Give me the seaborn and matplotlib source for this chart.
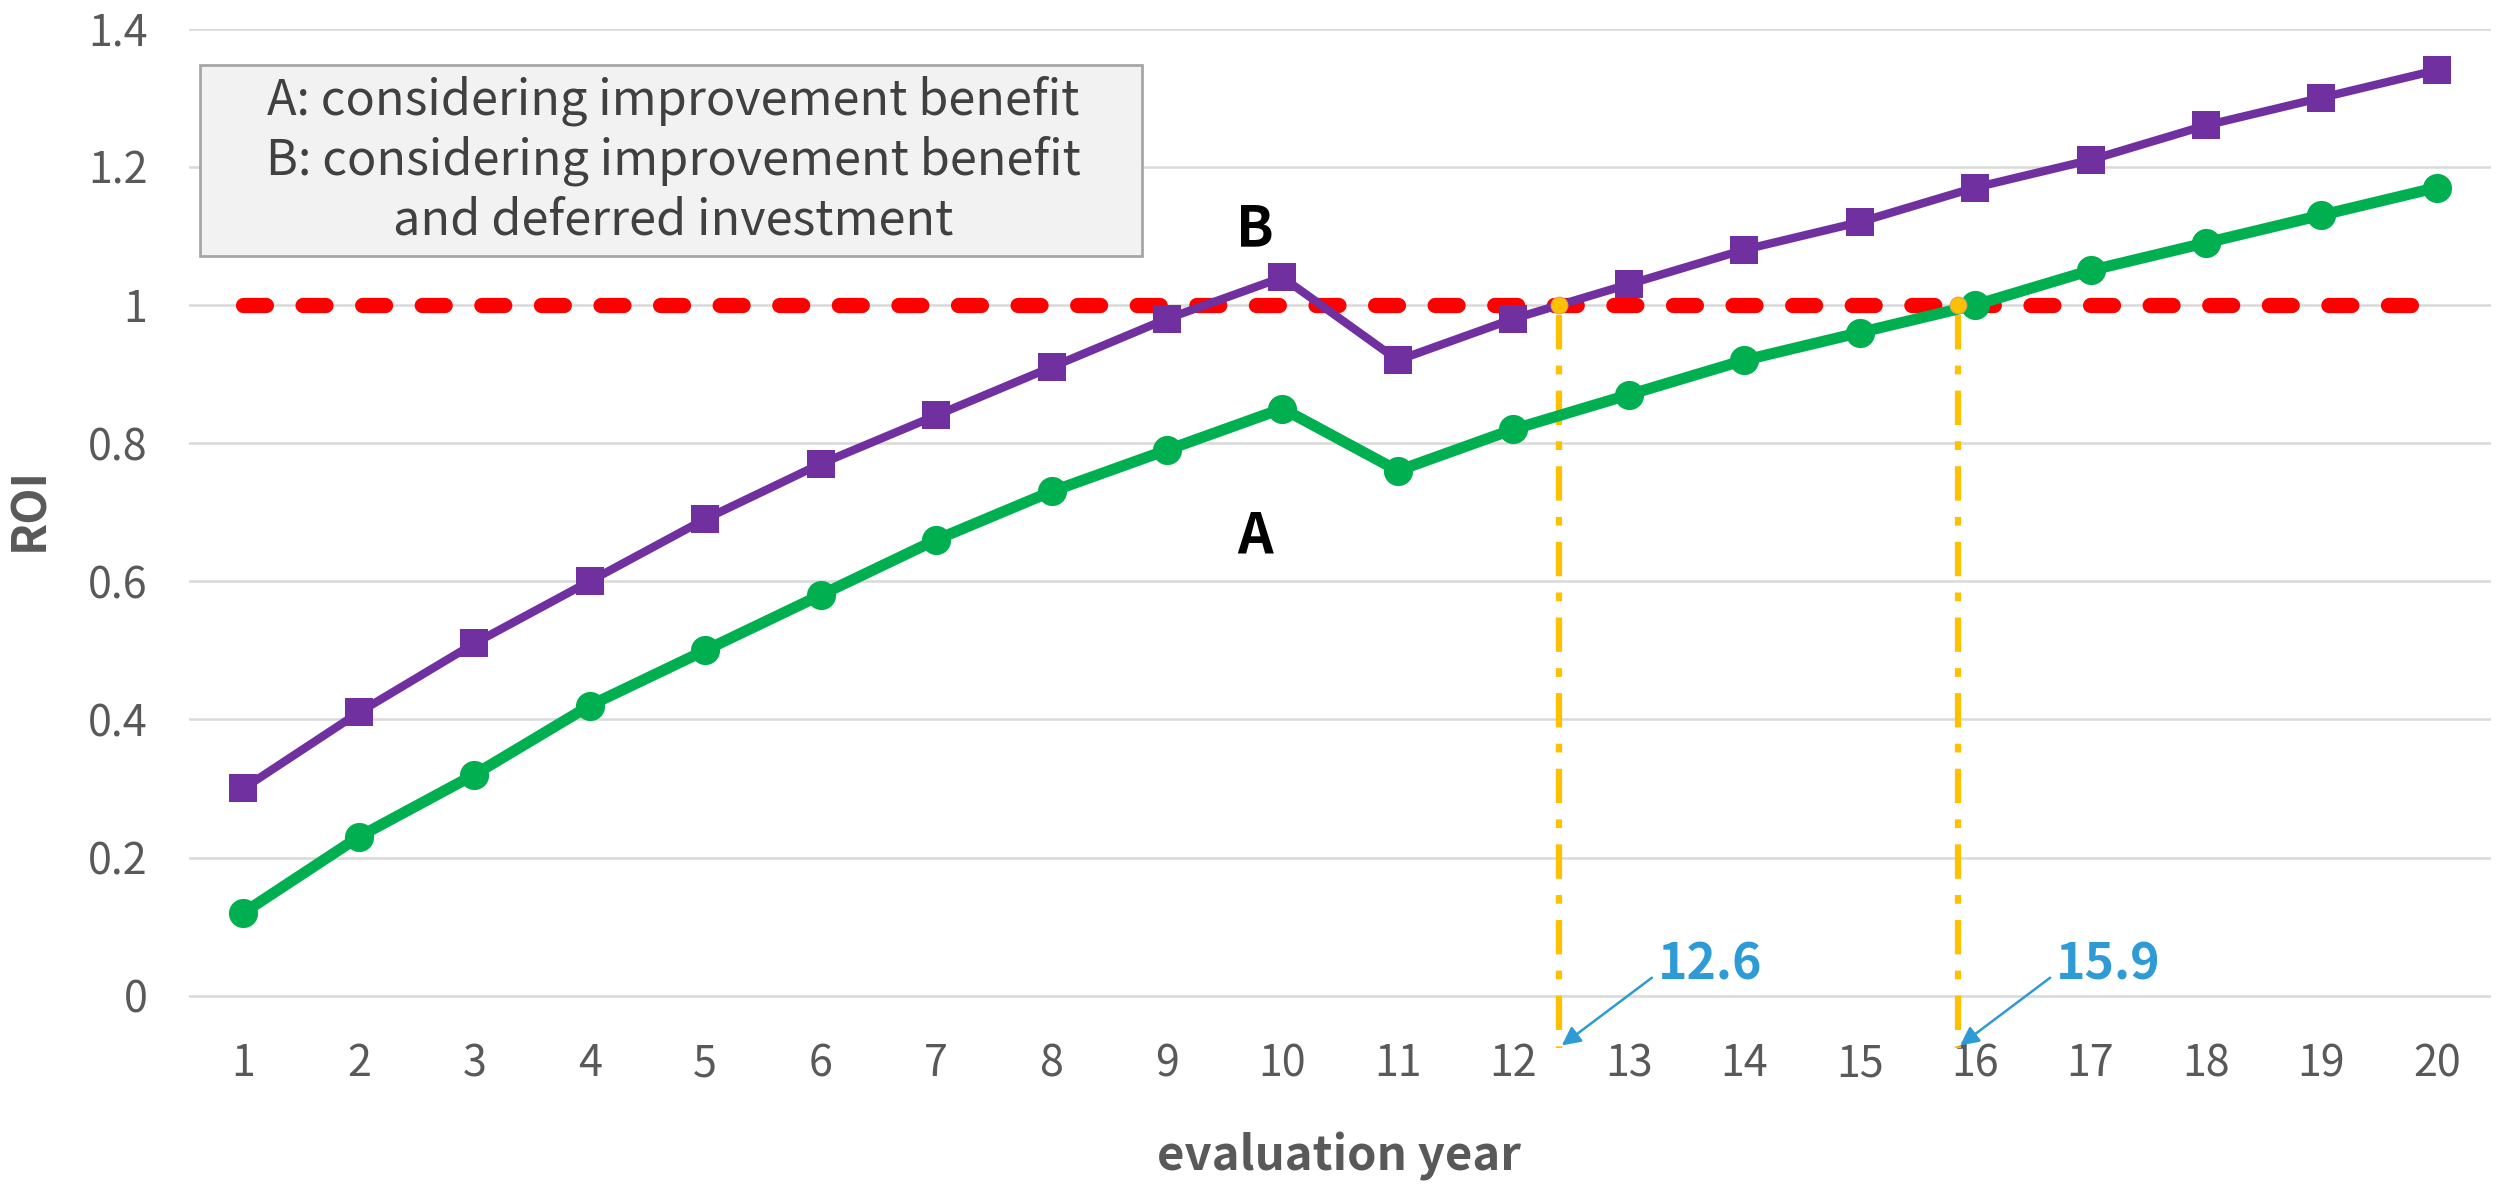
import matplotlib
matplotlib.use("Agg")
import matplotlib.pyplot as plt
import matplotlib.patches as mpatches
import seaborn as sns
import pandas as pd

# data
years = list(range(1, 21))
roi_a = [0.12, 0.23, 0.32, 0.42, 0.50, 0.58, 0.66, 0.73, 0.79, 0.85,
         0.76, 0.82, 0.87, 0.92, 0.96, 1.00, 1.05, 1.09, 1.13, 1.17]
roi_b = [0.30, 0.41, 0.51, 0.60, 0.69, 0.77, 0.84, 0.91, 0.98, 1.04,
         0.92, 0.98, 1.03, 1.08, 1.12, 1.17, 1.21, 1.26, 1.30, 1.34]
breakeven_x = [12.4, 15.85]
breakeven_labels = ["12.6", "15.9"]
yticks = [0, 0.2, 0.4, 0.6, 0.8, 1.0, 1.2, 1.4]
ytick_labels = ["0", "0.2", "0.4", "0.6", "0.8", "1", "1.2", "1.4"]
legend_text = ("A: considering improvement benefit\n"
               "B: considering improvement benefit\n"
               "and deferred investment")

df = pd.DataFrame({"year": years, "A": roi_a, "B": roi_b})

sns.set_theme(style="white")
plt.rcParams['font.family'] = ['Noto Sans CJK KR', 'DejaVu Sans']

gray = "#595959"
fig = plt.figure(figsize=(25.12, 11.95), dpi=100)
ax = fig.add_axes([0.0753, 0.135, 0.9164, 0.841])

# grid lines
for y in yticks:
    ax.axhline(y, color="#D9D9D9", lw=1.8, zorder=0)

# threshold ROI = 1
thr, = ax.plot([1, 20], [1, 1], color="#FF0000", lw=11, zorder=2,
               solid_capstyle="round", dash_capstyle="round")
thr.set_dashes([1.5, 2.4])

sns.lineplot(data=df, x="year", y="B", ax=ax, color="#7030A0", lw=6,
             marker="s", markersize=20, markeredgewidth=0, zorder=3)
sns.lineplot(data=df, x="year", y="A", ax=ax, color="#00B050", lw=8,
             marker="o", markersize=21, markeredgewidth=0, zorder=3)

# break-even markers
for xb, lab in zip(breakeven_x, breakeven_labels):
    vl, = ax.plot([xb, xb], [0.985, -0.076], color="#FFC000", lw=4.5,
                  zorder=1, clip_on=False)
    vl.set_dashes([5.5, 2.6, 1.4, 2.6])
    ax.plot([xb], [1], marker="o", markersize=12, color="#FFC000",
            markeredgecolor="#E0A060", markeredgewidth=0.8, zorder=5)
    ax.annotate("", xy=(xb + 0.02, -0.072), xytext=(xb + 0.8, 0.026),
                arrowprops=dict(arrowstyle="-|>", color="#2E9BD6", lw=1.8,
                                mutation_scale=28, shrinkA=0, shrinkB=0),
                annotation_clip=False, zorder=4)
    ax.text(xb + 0.85, 0.044, lab, color="#2E9BD6", fontsize=36,
            fontweight="bold", ha="left", va="center")

ax.text(9.76, 1.11, "B", fontsize=40, fontweight="bold", color="black",
        ha="center", va="center")
ax.text(9.76, 0.665, "A", fontsize=40, fontweight="bold", color="black",
        ha="center", va="center")

ax.set_xlim(0.53, 20.47)
ax.set_ylim(-0.055, 1.4)
ax.set_xticks(years)
ax.set_xticklabels([str(v) for v in years])
ax.set_yticks(yticks)
ax.set_yticklabels(ytick_labels)
ax.tick_params(axis="both", length=0, labelsize=31, labelcolor=gray)
ax.tick_params(axis="y", pad=30)
ax.tick_params(axis="x", pad=6)
for lbl in ax.get_xticklabels() + ax.get_yticklabels():
    lbl.set_fontweight("medium")
ax.set_xlabel("")
ax.set_ylabel("")
for s in ax.spines.values():
    s.set_visible(False)

fig.text(0.533, 0.032, "evaluation year", fontsize=34, fontweight="bold",
         color=gray, ha="center", va="center")
fig.text(0.0115, 0.574, "ROI", fontsize=34, fontweight="bold", color=gray,
         rotation=90, ha="center", va="center")

# description box
box = mpatches.Rectangle((0.0796, 0.786), 0.375, 0.16, transform=fig.transFigure,
                         facecolor="#F2F2F2", edgecolor="#A6A6A6", lw=2)
fig.patches.append(box)
fig.text(0.268, 0.866, legend_text, fontsize=35, color="#404040",
         ha="center", va="center", linespacing=1.25)

fig.savefig("out.png", dpi=100)
